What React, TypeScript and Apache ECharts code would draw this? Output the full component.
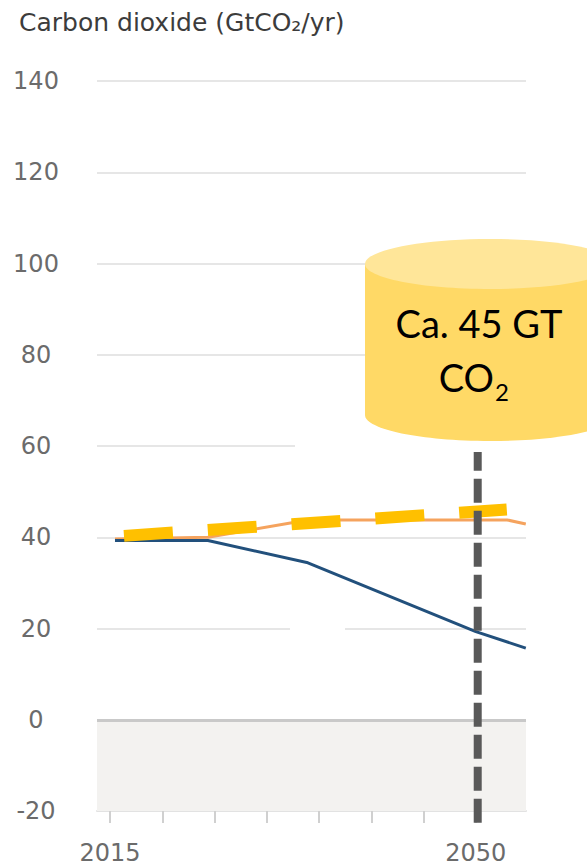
import React, { useEffect, useRef } from "react";
import * as echarts from "echarts";

// ---- data ----
const chartTitle = "Carbon dioxide (GtCO₂/yr)";
const yMin = -20;
const yMax = 140;
const yStep = 20;
const xMin = 2013.75;
const xMax = 2054.8;
const xTickYears = [2015, 2020, 2025, 2030, 2035, 2040, 2045, 2050];
const xLabelYears = [2015, 2050];

const blueYears = [2015.47, 2024.36, 2033.93, 2050.0, 2054.78];
const blueValues = [39.3, 39.3, 34.4, 19.3, 15.7];

const orangeYears = [2015.47, 2024.36, 2033.93, 2053.0, 2054.78];
const orangeValues = [39.6, 40.0, 43.8, 43.8, 42.9];

const targetYears = [2016.33, 2052.96];
const targetValues = [40.3, 46.1];

const markerYear = 2050.18;
const markerValues = [-22.6, 58.7];

const negativeBand = [-20, 0];
const calloutLine1 = "Ca. 45 GT";
const calloutLine2 = "CO";
const calloutSub = "2";

const zip = (xs: number[], ys: number[]) => xs.map((x, i) => [x, ys[i]]);

export default function App() {
  const ref = useRef<HTMLDivElement>(null);

  useEffect(() => {
    document.body.style.margin = "0";
    if (!ref.current) return;
    const chart = echarts.init(ref.current, undefined, { renderer: "svg" });

    const labelFont = {
      fontFamily: "DejaVu Sans",
      fontSize: 24,
      color: "#6b6b6b",
    };

    const option: any = {
      animation: false,
      backgroundColor: "#ffffff",
      title: {
        text: chartTitle,
        left: 14,
        top: 5,
        textStyle: {
          fontFamily: "DejaVu Sans",
          fontSize: 25,
          fontWeight: "normal",
          color: "#3c3c3c",
        },
      },
      grid: { left: 97, right: 61, top: 81, bottom: 56 },
      xAxis: {
        type: "value",
        min: xMin,
        max: xMax,
        axisLine: { show: true, onZero: false, lineStyle: { color: "#e2e2e2", width: 2 } },
        axisTick: {
          show: true,
          customValues: xTickYears,
          length: 12,
          lineStyle: { color: "#d0d0d0", width: 2 },
        },
        axisLabel: {
          customValues: xLabelYears,
          margin: 30,
          ...labelFont,
          formatter: (v: number) => String(Math.round(v)),
        },
        splitLine: { show: false },
      },
      yAxis: {
        type: "value",
        min: yMin,
        max: yMax,
        interval: yStep,
        axisLine: { show: false },
        axisTick: { show: false },
        axisLabel: { align: "center", margin: 61, ...labelFont },
        splitLine: { lineStyle: { color: "#e6e6e6", width: 2 } },
      },
      graphic: [
        // breaks in the grid lines as in the source picture
        { type: "rect", z: 1, shape: { x: 295, y: 443, width: 235, height: 6 }, style: { fill: "#ffffff" } },
        { type: "rect", z: 1, shape: { x: 290, y: 625.5, width: 55, height: 6 }, style: { fill: "#ffffff" } },
        // cylinder callout
        {
          type: "group",
          z: 50,
          children: [
            { type: "ellipse", z: 50, shape: { cx: 490, cy: 415, rx: 125, ry: 26 }, style: { fill: "#FFD966" } },
            { type: "rect", z: 50, shape: { x: 365, y: 264, width: 250, height: 151 }, style: { fill: "#FFD966" } },
            { type: "ellipse", z: 50, shape: { cx: 490, cy: 264, rx: 125, ry: 25 }, style: { fill: "#FFE699" } },
            {
              type: "text",
              z: 51,
              x: 479,
              y: 323,
              style: {
                text: calloutLine1,
                fill: "#000000",
                font: "38px Lato",
                textAlign: "center",
                textVerticalAlign: "middle",
              },
            },
            {
              type: "text",
              z: 51,
              x: 494,
              y: 377,
              style: {
                text: calloutLine2,
                fill: "#000000",
                font: "38px Lato",
                textAlign: "right",
                textVerticalAlign: "middle",
              },
            },
            {
              type: "text",
              z: 51,
              x: 495,
              y: 391,
              style: {
                text: calloutSub,
                fill: "#000000",
                font: "24px Lato",
                textAlign: "left",
                textVerticalAlign: "middle",
              },
            },
          ],
        },
      ],
      series: [
        {
          name: "Orange",
          type: "line",
          z: 3,
          data: zip(orangeYears, orangeValues),
          symbol: "none",
          lineStyle: { color: "#f5a35e", width: 3 },
          markArea: {
            silent: true,
            itemStyle: { color: "#f3f2f0" },
            data: [[{ yAxis: negativeBand[0] }, { yAxis: negativeBand[1] }]],
          },
          markLine: {
            silent: true,
            symbol: "none",
            label: { show: false },
            lineStyle: { color: "#c9c9c9", width: 3, type: "solid" },
            data: [{ yAxis: 0 }],
          },
        },
        {
          name: "Blue",
          type: "line",
          z: 4,
          data: zip(blueYears, blueValues),
          symbol: "none",
          lineStyle: { color: "#22507c", width: 3 },
        },
        {
          name: "Target",
          type: "line",
          z: 5,
          data: zip(targetYears, targetValues),
          symbol: "none",
          lineStyle: { color: "#FFC000", width: 12, type: [49, 35], cap: "butt" },
        },
        {
          name: "Marker",
          type: "line",
          z: 6,
          clip: false,
          data: markerValues.map((v) => [markerYear, v]),
          symbol: "none",
          lineStyle: { color: "#595959", width: 8, type: [24, 8], cap: "butt" },
        },
      ],
    };

    chart.setOption(option);
    return () => chart.dispose();
  }, []);

  return <div ref={ref} style={{ width: 587, height: 867 }} />;
}
